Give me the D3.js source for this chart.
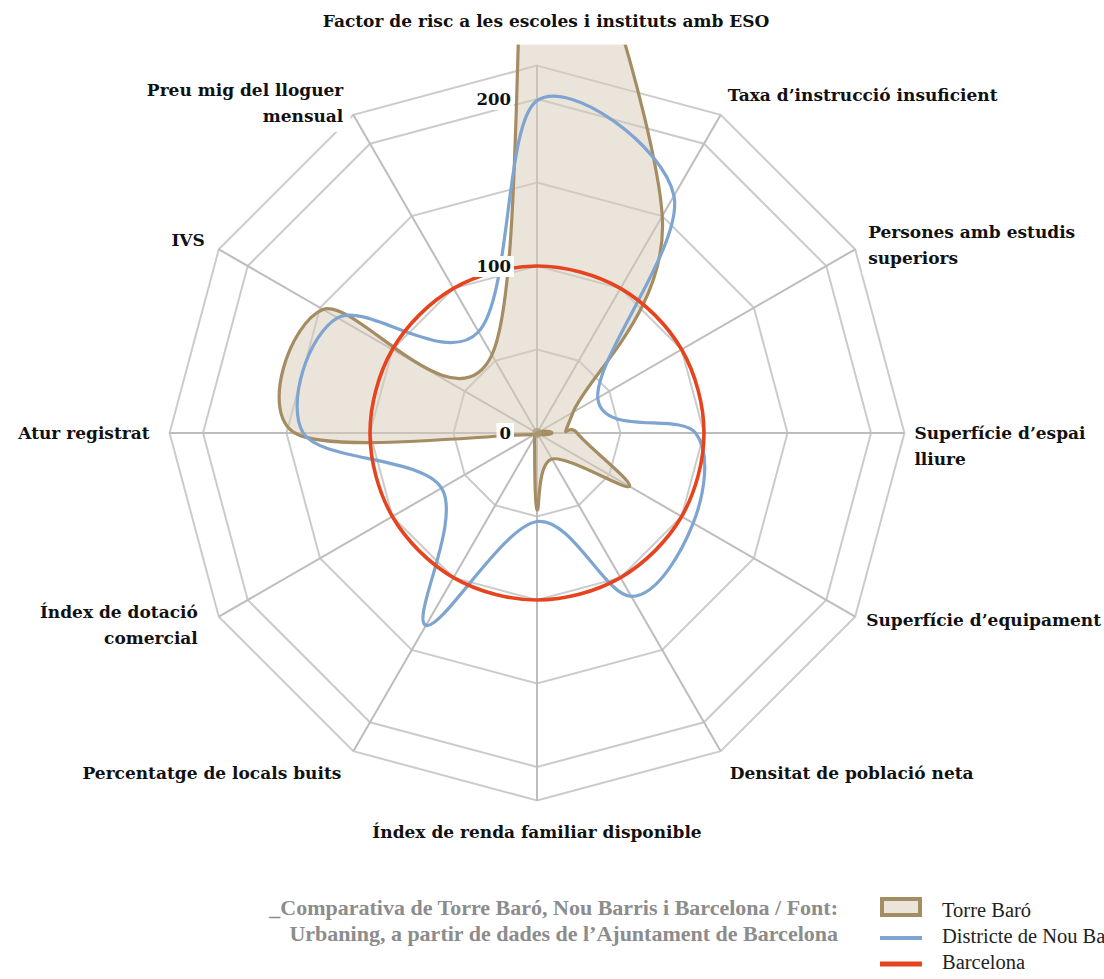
<!DOCTYPE html>
<html>
<head>
<meta charset="utf-8">
<script src="https://cdn.jsdelivr.net/npm/d3@7"></script>
<style>
  html, body { margin: 0; padding: 0; background: #fff; }
  svg { display: block; }
  .axis-label { font-family: "DejaVu Serif", "Liberation Serif", serif; font-weight: bold; font-size: 17px; fill: #111; }
  .tick-label { font-family: "DejaVu Serif", serif; font-weight: bold; font-size: 16.5px; fill: #111; }
  .caption { font-family: "Liberation Serif", serif; font-weight: bold; font-size: 22px; fill: #8c8c8c; }
  .legend-text { font-family: "Liberation Serif", serif; font-size: 20.5px; fill: #222; }
</style>
</head>
<body>
<svg id="chart" width="1104" height="979"></svg>
<script>
// Indicators, clockwise from the top (each entry is split into display lines)
const categories = [
  ["Factor de risc a les escoles i instituts amb ESO"],
  ["Taxa d’instrucció insuficient"],
  ["Persones amb estudis", "superiors"],
  ["Superfície d’espai", "lliure"],
  ["Superfície d’equipament"],
  ["Densitat de població neta"],
  ["Índex de renda familiar disponible"],
  ["Percentatge de locals buits"],
  ["Índex de dotació", "comercial"],
  ["Atur registrat"],
  ["IVS"],
  ["Preu mig del lloguer", "mensual"]
];

// Index values (Barcelona = 100)
const torreBaro   = [350, 150, 25, 24, 64, 18, 46, 3, 2, 145, 148, 54];
const nouBarris   = [199, 164, 42, 95, 108, 113, 53, 133, 66, 140, 138, 70];
const barcelona   = [100, 100, 100, 100, 100, 100, 100, 100, 100, 100, 100, 100];

const ringValues  = [50, 100, 150, 200, 220];
const tickValues  = [0, 100, 200];

const seriesNames = ["Torre Baró", "Districte de Nou Barris", "Barcelona"];
const captionLines = [
  "_Comparativa de Torre Baró, Nou Barris i Barcelona / Font:",
  "Urbaning, a partir de dades de l’Ajuntament de Barcelona"
];

// ---- layout ----
const svg = d3.select("#chart");
const cx = 537, cy = 433;
const maxValue = 220;
const outerR = 367.4;
const r = d3.scaleLinear().domain([0, maxValue]).range([0, outerR]);
const n = categories.length;
const angle = d3.scaleLinear().domain([0, n]).range([0, 2 * Math.PI]);

const colors = {
  tanStroke: "#a58d63",
  tanFill: "#d8cab7",
  blue: "#7ea4d0",
  red: "#e5441f",
  grid: "#cbcbcb"
};

const g = svg.append("g").attr("transform", `translate(${cx},${cy})`);

function pt(i, v) {
  const a = angle(i);
  return [r(v) * Math.sin(a), -r(v) * Math.cos(a)];
}

// grid rings (dodecagons)
const ringLine = d3.line().curve(d3.curveLinearClosed);
g.selectAll(".ring").data(ringValues).join("path")
  .attr("class", "ring")
  .attr("d", v => ringLine(d3.range(n).map(i => pt(i, v))))
  .attr("fill", "none")
  .attr("stroke", colors.grid)
  .attr("stroke-width", 2);

// spokes
g.selectAll(".spoke").data(d3.range(n)).join("line")
  .attr("class", "spoke")
  .attr("x1", 0).attr("y1", 0)
  .attr("x2", i => pt(i, maxValue)[0])
  .attr("y2", i => pt(i, maxValue)[1])
  .attr("stroke", "#bdbdbd")
  .attr("stroke-width", 2);

// series
const radial = d3.line().curve(d3.curveCardinalClosed.tension(0));
const toPts = vals => vals.map((v, i) => pt(i, v));

g.append("path")
  .attr("d", radial(toPts(torreBaro)))
  .attr("fill", colors.tanFill)
  .attr("fill-opacity", 0.5)
  .attr("stroke", colors.tanStroke)
  .attr("stroke-width", 3.2)
  .attr("stroke-linejoin", "round");

g.append("path")
  .attr("d", radial(toPts(nouBarris)))
  .attr("fill", "none")
  .attr("stroke", colors.blue)
  .attr("stroke-width", 3.2);

g.append("path")
  .attr("d", radial(toPts(barcelona)))
  .attr("fill", "none")
  .attr("stroke", colors.red)
  .attr("stroke-width", 3.6);

// small hub at the centre
g.append("circle").attr("r", 5).attr("fill", "#a89b74").attr("opacity", 0.7);

// helper: text with a white box behind it
function boxedText(parent, lines, x, y, anchor, cls, lineH, pad) {
  const grp = parent.append("g");
  const bg = grp.append("rect").attr("fill", "#fff");
  const t = grp.append("text").attr("class", cls).attr("text-anchor", anchor);
  lines.forEach((s, k) => {
    t.append("tspan").attr("x", x).attr("y", y + k * lineH).text(s);
  });
  const bb = t.node().getBBox();
  bg.attr("x", bb.x - pad[0]).attr("y", bb.y - pad[1])
    .attr("width", bb.width + 2 * pad[0]).attr("height", bb.height + 2 * pad[1]);
  return grp;
}

// value ticks on the top axis
tickValues.forEach(v => {
  const p = pt(0, v);
  boxedText(g, [String(v)], p[0] - 26, p[1] + 6, "end", "tick-label", 0, [3, 1]);
});

// category labels placed from their outer vertex
const labelOffsets = [
  [9, -39, "middle"],
  [7, -14, "start"],
  [13, -11, "start"],
  [10, 6, "start"],
  [11, 9, "start"],
  [9, 28, "start"],
  [0, 38, "middle"],
  [-12, 28, "end"],
  [-21, 1, "end"],
  [-20, 6, "end"],
  [-14, -3, "end"],
  [-10, -19, "end"]
];
categories.forEach((lines, i) => {
  const p = pt(i, maxValue);
  const [dx, dy, anchor] = labelOffsets[i];
  const pad = i === 0 ? [30, 14] : [6, 6];
  boxedText(g, lines, p[0] + dx, p[1] + dy, anchor, "axis-label", 26, pad);
});

// caption
const cap = svg.append("text").attr("class", "caption").attr("text-anchor", "end");
captionLines.forEach((s, k) => {
  cap.append("tspan").attr("x", 838).attr("y", 915 + k * 26).text(s);
});

// legend
const lg = svg.append("g").attr("transform", "translate(880,0)");
lg.append("rect").attr("x", 2).attr("y", 899).attr("width", 38).attr("height", 16)
  .attr("fill", "#ebe4da").attr("stroke", colors.tanStroke).attr("stroke-width", 4);
lg.append("line").attr("x1", 0).attr("x2", 42).attr("y1", 938).attr("y2", 938)
  .attr("stroke", colors.blue).attr("stroke-width", 4);
lg.append("line").attr("x1", 0).attr("x2", 42).attr("y1", 964).attr("y2", 964)
  .attr("stroke", colors.red).attr("stroke-width", 5);
seriesNames.forEach((s, k) => {
  lg.append("text").attr("class", "legend-text").attr("x", 62).attr("y", 917 + k * 26).text(s);
});
</script>
</body>
</html>
